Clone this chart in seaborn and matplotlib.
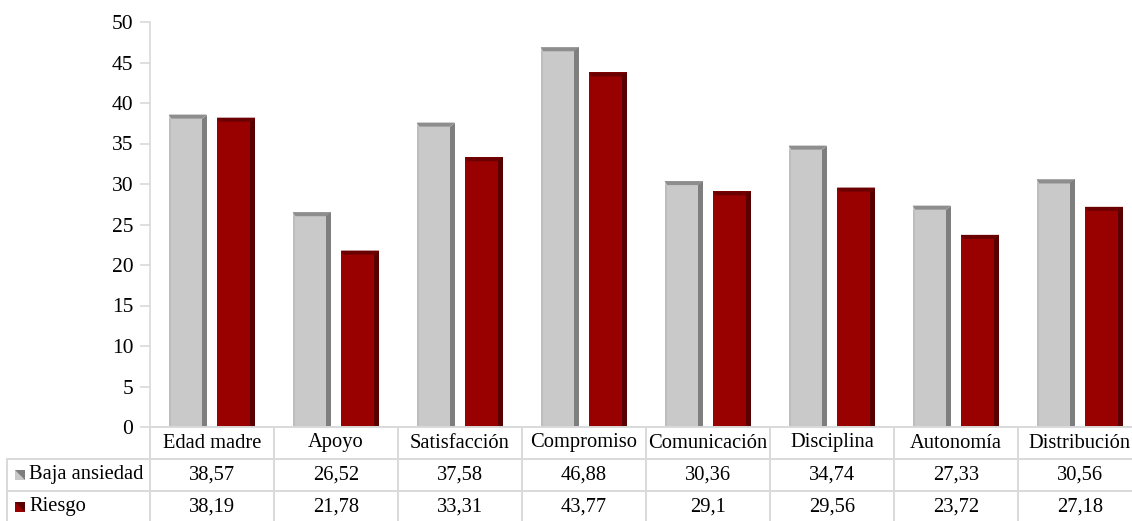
import numpy as np
import pandas as pd
import matplotlib
matplotlib.use("Agg")
import matplotlib.pyplot as plt
from matplotlib.patches import Polygon, Rectangle
import seaborn as sns

# Data
categories = ["Edad madre", "Apoyo", "Satisfacción", "Compromiso",
              "Comunicación", "Disciplina", "Autonomía", "Distribución"]
series_names = ["Baja ansiedad", "Riesgo"]
baja_ansiedad = [38.57, 26.52, 37.58, 46.88, 30.36, 34.74, 27.33, 30.56]
riesgo = [38.19, 21.78, 33.31, 43.77, 29.1, 29.56, 23.72, 27.18]
y_ticks = list(range(0, 55, 5))

# Styling
face_colors = {"Baja ansiedad": "#C9C9C9", "Riesgo": "#990000"}
top_colors = {"Baja ansiedad": "#8E8E8E", "Riesgo": "#6A0000"}
side_colors = {"Baja ansiedad": "#7E7E7E", "Riesgo": "#580000"}
grid_color = "#D9D9D9"
font = ["Liberation Serif", "DejaVu Serif"]
fs = 14.8

W, H, DPI = 1132, 521, 100
sns.set_theme(style="white")
plt.rcParams["font.family"] = font

df = pd.DataFrame({
    "categoria": categories * 2,
    "grupo": [series_names[0]] * len(categories) + [series_names[1]] * len(categories),
    "valor": baja_ansiedad + riesgo,
})

fig = plt.figure(figsize=(W / DPI, H / DPI), dpi=DPI)
fig.patch.set_facecolor("white")

# Axes geometry in pixels (top-left origin)
ax_left, ax_right = 150, 1142
ax_top, ax_bottom = 22, 427
ax = fig.add_axes([ax_left / W, 1 - ax_bottom / H,
                   (ax_right - ax_left) / W, (ax_bottom - ax_top) / H])

sns.barplot(data=df, x="categoria", y="valor", hue="grupo",
            palette=face_colors, width=0.78, gap=0.21,
            order=categories, hue_order=series_names,
            legend=False, ax=ax, saturation=1, linewidth=0)

ax.set_xlim(-0.5, len(categories) - 0.5)
ax.set_ylim(0, 50)
ax.set_yticks(y_ticks)
ax.set_yticklabels([str(t) for t in y_ticks], fontsize=15.5, family=font, color="#000000")
ax.set_xticks([])
ax.set_xlabel("")
ax.set_ylabel("")
for s in ["top", "right", "bottom"]:
    ax.spines[s].set_visible(False)
ax.spines["left"].set_color(grid_color)
ax.spines["left"].set_linewidth(1.2)
ax.tick_params(axis="y", length=7, width=1.2, color=grid_color, pad=5, left=True)

# Bevel shading on every bar
px_per_x = (ax_right - ax_left) / (len(categories))
px_per_y = (ax_bottom - ax_top) / 50.0
dx_side = 5 / px_per_x
dy_top = 4 / px_per_y
dx_top = 4 / px_per_x
for container, name in zip(ax.containers, series_names):
    for bar in container:
        x0 = bar.get_x()
        x1 = x0 + bar.get_width()
        h = bar.get_height()
        top = Polygon([(x0, h), (x1, h), (x1 - dx_side, h - dy_top), (x0 + dx_top * 0.6, h - dy_top)],
                      closed=True, facecolor=top_colors[name], edgecolor="none", zorder=3)
        side = Polygon([(x1, h), (x1, 0), (x1 - dx_side, 0), (x1 - dx_side, h - dy_top)],
                       closed=True, facecolor=side_colors[name], edgecolor="none", zorder=3)
        ax.add_patch(top)
        ax.add_patch(side)
        if name == "Baja ansiedad":
            edge = Rectangle((x0, 0), 2 / px_per_x, h - dy_top, facecolor="#BDBDBD",
                             edgecolor="none", zorder=3)
            ax.add_patch(edge)

# Data table below the axes
def fx(px):
    return px / W

def fy(py):
    return 1 - py / H

row_lines = [427, 458.5, 491]
row_centers = [443, 475, 507]
left_col = 7

def line(xs, ys):
    fig.add_artist(plt.Line2D([fx(v) for v in xs], [fy(v) for v in ys],
                              color=grid_color, linewidth=1.4, zorder=1))

# horizontal lines
line([ax_left, W + 20], [row_lines[0], row_lines[0]])
line([left_col, W + 20], [row_lines[1], row_lines[1]])
line([left_col, W + 20], [row_lines[2], row_lines[2]])
# vertical lines
line([left_col, left_col], [row_lines[1], H + 5])
for i in range(len(categories) + 1):
    xp = ax_left + i * px_per_x
    line([xp, xp], [row_lines[0], H + 5])

fmt = lambda v: f"{v:g}".replace(".", ",")
for i, cat in enumerate(categories):
    xc = ax_left + (i + 0.5) * px_per_x
    fig.text(fx(xc), fy(row_centers[0]), cat, ha="center", va="center",
             fontsize=fs, family=font, color="#000000")
    fig.text(fx(xc), fy(row_centers[1]), fmt(baja_ansiedad[i]), ha="center", va="center",
             fontsize=fs, family=font, color="#000000")
    fig.text(fx(xc), fy(row_centers[2]), fmt(riesgo[i]), ha="center", va="center",
             fontsize=fs, family=font, color="#000000")

# Legend keys inside the table
for name, yc in zip(series_names, row_centers[1:]):
    kx0, kx1 = 15, 25
    ky0, ky1 = yc - 5, yc + 5
    fig.add_artist(Polygon([(fx(kx0), fy(ky0)), (fx(kx1), fy(ky0)), (fx(kx1), fy(ky1)), (fx(kx0), fy(ky1))],
                           closed=True, facecolor=face_colors[name], edgecolor="none",
                           transform=fig.transFigure))
    fig.add_artist(Polygon([(fx(kx0), fy(ky0)), (fx(kx1), fy(ky0)), (fx(kx1), fy(ky1))],
                           closed=True, facecolor=side_colors[name], edgecolor="none",
                           transform=fig.transFigure))
    fig.text(fx(29), fy(yc), name, ha="left", va="center",
             fontsize=fs, family=font, color="#000000")

fig.savefig("out.png", dpi=DPI, facecolor="white")
